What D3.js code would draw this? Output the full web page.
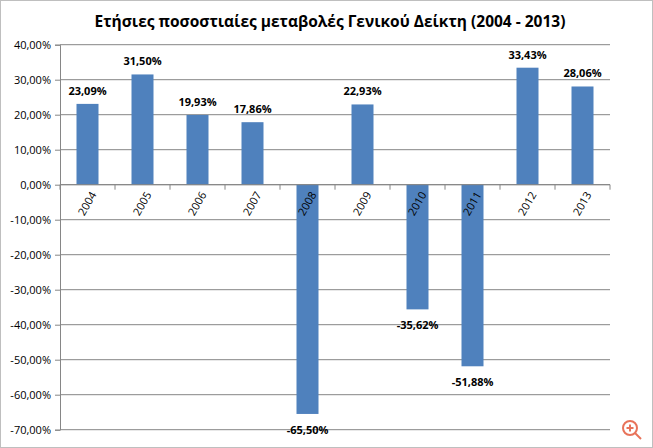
<!DOCTYPE html>
<html>
<head>
<meta charset="utf-8">
<style>
body { margin: 0; background: #fff; }
text { font-family: "Open Sans", sans-serif; }
</style>
</head>
<body>
<script src="https://cdn.jsdelivr.net/npm/d3@7"></script>
<script>
var years = ["2004","2005","2006","2007","2008","2009","2010","2011","2012","2013"];
var changes = [23.09, 31.50, 19.93, 17.86, -65.50, 22.93, -35.62, -51.88, 33.43, 28.06];
var yTicks = [40, 30, 20, 10, 0, -10, -20, -30, -40, -50, -60, -70];

var W = 653, H = 448;
var margin = {top: 44.7, left: 60, right: 43, bottom: 18.3};
var width = W - margin.left - margin.right,
    height = H - margin.top - margin.bottom;

var fmt = function(d) { return d.toFixed(2).replace(".", ",") + "%"; };

var svg = d3.select("body").append("svg").attr("width", W).attr("height", H);

svg.append("rect").attr("x", 0.5).attr("y", 0.5).attr("width", W - 1).attr("height", H - 1)
    .attr("fill", "#fff").attr("stroke", "#bfbfbf");

svg.append("text").attr("x", 330).attr("y", 27).attr("text-anchor", "middle")
    .style("font-size", "15.5px").style("font-weight", "bold")
    .text("Ετήσιες ποσοστιαίες μεταβολές Γενικού Δείκτη (2004 - 2013)");

var g = svg.append("g").attr("transform", "translate(" + margin.left + "," + margin.top + ")");

var x = d3.scaleBand().domain(years).range([0, width]).paddingInner(0.6).paddingOuter(0.3);
var y = d3.scaleLinear().domain([-70, 40]).range([height, 0]);

// gridlines
g.selectAll(".grid").data(yTicks).enter().append("line")
    .attr("x1", 0).attr("x2", width)
    .attr("y1", function(d) { return y(d); }).attr("y2", function(d) { return y(d); })
    .attr("stroke", "#868686").attr("stroke-width", 1);

// y axis
var yAxis = g.append("g").call(d3.axisLeft(y).tickValues(yTicks).tickSize(5).tickFormat(fmt));
yAxis.select(".domain").attr("stroke", "#868686");
yAxis.selectAll(".tick line").attr("stroke", "#868686");
yAxis.selectAll("text").style("font-size", "11px").attr("fill", "#000").attr("dx", "-1");

// bars
g.selectAll(".bar").data(changes).enter().append("rect")
    .attr("x", function(d, i) { return x(years[i]); })
    .attr("width", x.bandwidth())
    .attr("y", function(d) { return y(Math.max(0, d)); })
    .attr("height", function(d) { return Math.abs(y(d) - y(0)); })
    .attr("fill", "#4f81bd");

// zero axis with category ticks
g.append("line").attr("x1", 0).attr("x2", width).attr("y1", y(0)).attr("y2", y(0)).attr("stroke", "#868686");
var step = x.step();
g.selectAll(".ctick").data(d3.range(years.length + 1)).enter().append("line")
    .attr("x1", function(i) { return i * step; }).attr("x2", function(i) { return i * step; })
    .attr("y1", y(0)).attr("y2", y(0) + 5).attr("stroke", "#868686");

// year labels
g.selectAll(".yl").data(years).enter().append("text")
    .attr("transform", function(d) { return "translate(" + (x(d) + x.bandwidth() / 2 + 6) + "," + (y(0) + 8) + ") rotate(-60)"; })
    .attr("text-anchor", "end").attr("dy", "0.35em")
    .style("font-size", "11px").text(function(d) { return d; });

// value labels
g.selectAll(".vl").data(changes).enter().append("text")
    .attr("x", function(d, i) { return x(years[i]) + x.bandwidth() / 2; })
    .attr("y", function(d) { return d >= 0 ? y(d) - 9 : y(d) + 20; })
    .attr("text-anchor", "middle").style("font-size", "11px").style("font-weight", "bold")
    .text(fmt);

// zoom icon
var ic = svg.append("g").attr("transform", "translate(630,428)").attr("stroke", "#e8735a").attr("fill", "none").attr("stroke-width", 2);
ic.append("circle").attr("r", 7);
ic.append("line").attr("x1", 5).attr("y1", 5).attr("x2", 11).attr("y2", 11);
ic.append("line").attr("x1", -3.5).attr("x2", 3.5).attr("y1", 0).attr("y2", 0);
ic.append("line").attr("y1", -3.5).attr("y2", 3.5).attr("x1", 0).attr("x2", 0);
</script>
</body>
</html>
